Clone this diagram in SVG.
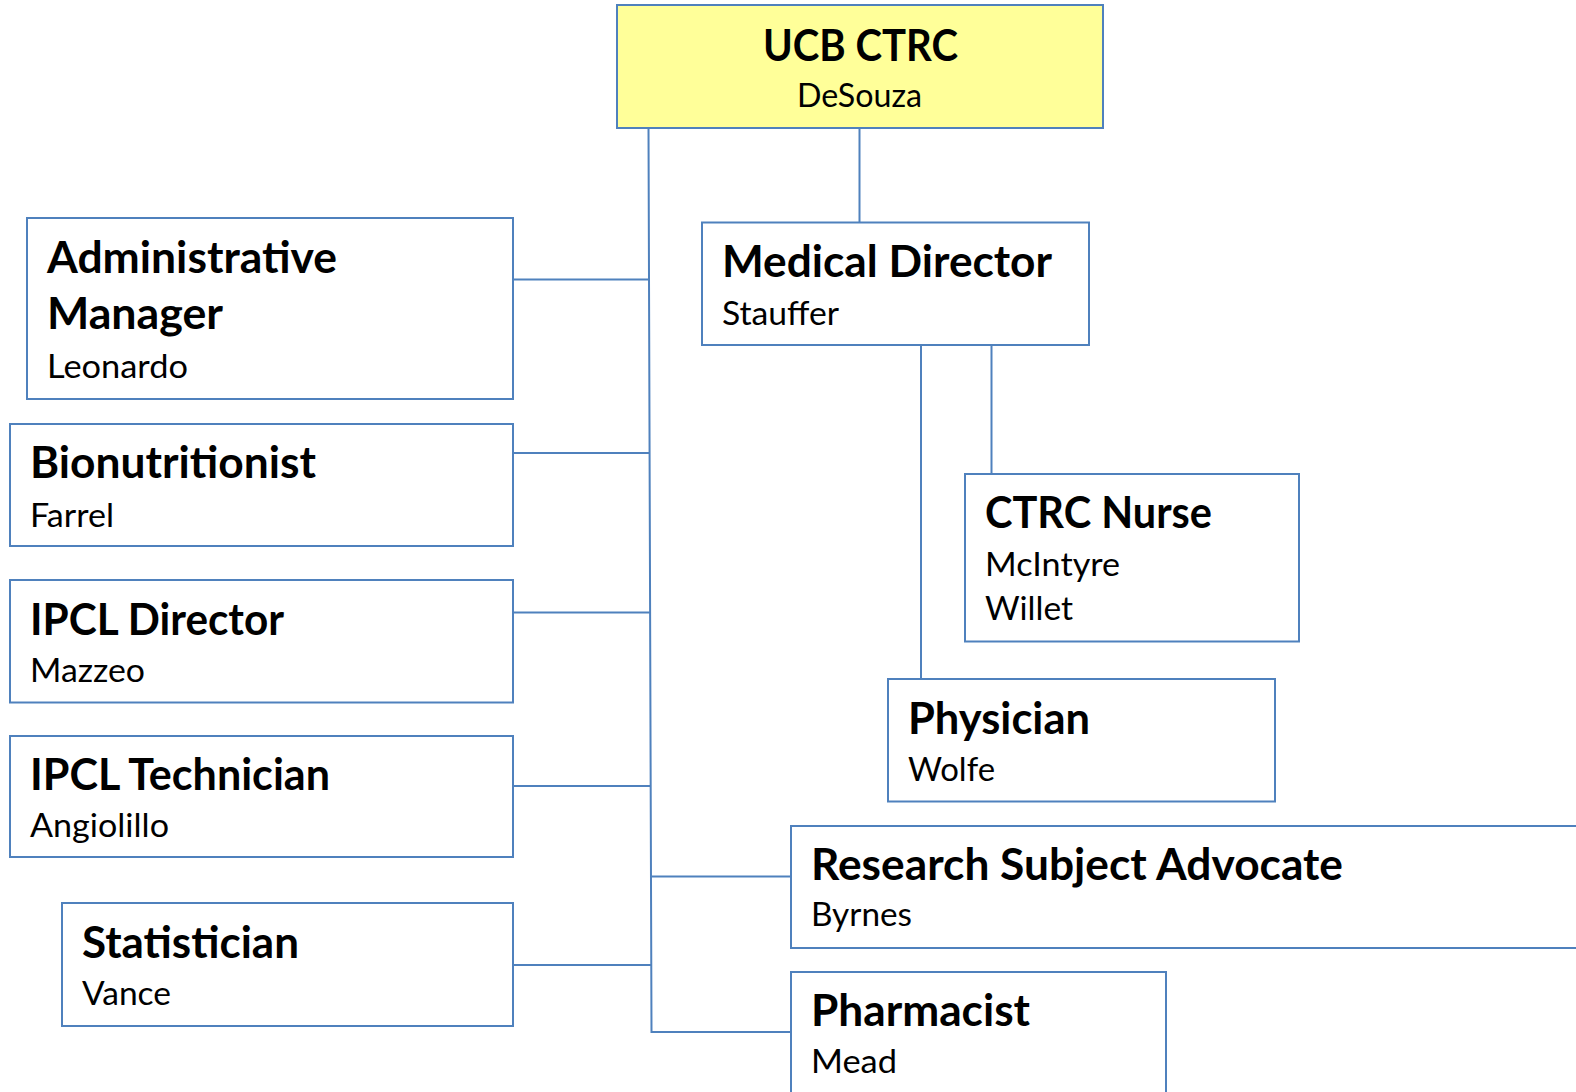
<svg xmlns="http://www.w3.org/2000/svg" width="1576" height="1092" viewBox="0 0 1576 1092">
<style>
.box{fill:#ffffff;stroke:#4f81bd;stroke-width:2}
.top{fill:#ffff99;stroke:#4f81bd;stroke-width:2}
.ln{stroke:#4f81bd;stroke-width:2;fill:none}
.t{font-family:Lato,"Open Sans",sans-serif;font-weight:bold;font-size:43px;fill:#000}
.s{font-family:Lato,"Open Sans",sans-serif;font-size:32px;fill:#000}
</style>
<rect width="1576" height="1092" fill="#ffffff"/>
<g id="connectors">
<path class="ln" d="M648.5 128 L651.5 1032 L791 1032"/>
<path class="ln" d="M859.5 128 V222"/>
<path class="ln" d="M513 279.5 H650"/>
<path class="ln" d="M513 453 H650"/>
<path class="ln" d="M511 612.5 H650"/>
<path class="ln" d="M513 786 H651"/>
<path class="ln" d="M651 876.5 H791"/>
<path class="ln" d="M513 965 H651"/>
<path class="ln" d="M921 345 V679"/>
<path class="ln" d="M991.5 345 V474"/>
</g>
<g id="ucb-ctrc">
<rect class="top" x="617" y="5" width="486" height="123"/>
<text class="t" x="763" y="61" textLength="195" lengthAdjust="spacingAndGlyphs">UCB CTRC</text>
<text class="s" x="797" y="107" textLength="125" lengthAdjust="spacingAndGlyphs">DeSouza</text>
</g>
<g id="medical-director">
<rect class="box" x="702" y="222.5" width="387" height="122.5"/>
<text class="t" x="722" y="277" textLength="330" lengthAdjust="spacingAndGlyphs">Medical Director</text>
<text class="s" x="722" y="325" textLength="117" lengthAdjust="spacingAndGlyphs">Stauffer</text>
</g>
<g id="administrative-manager">
<rect class="box" x="27" y="218" width="486" height="181"/>
<text class="t" x="47" y="273" textLength="290" lengthAdjust="spacingAndGlyphs">Administrative</text>
<text class="t" x="47" y="329" textLength="176" lengthAdjust="spacingAndGlyphs">Manager</text>
<text class="s" x="47" y="378" textLength="141" lengthAdjust="spacingAndGlyphs">Leonardo</text>
</g>
<g id="bionutritionist">
<rect class="box" x="10" y="424" width="503" height="122"/>
<text class="t" x="30" y="478" textLength="286" lengthAdjust="spacingAndGlyphs">Bionutritionist</text>
<text class="s" x="30" y="527" textLength="84" lengthAdjust="spacingAndGlyphs">Farrel</text>
</g>
<g id="ipcl-director">
<rect class="box" x="10" y="580" width="503" height="122.5"/>
<text class="t" x="30" y="635" textLength="254" lengthAdjust="spacingAndGlyphs">IPCL Director</text>
<text class="s" x="30" y="682" textLength="115" lengthAdjust="spacingAndGlyphs">Mazzeo</text>
</g>
<g id="ipcl-technician">
<rect class="box" x="10" y="736" width="503" height="121"/>
<text class="t" x="30" y="790" textLength="300" lengthAdjust="spacingAndGlyphs">IPCL Technician</text>
<text class="s" x="30" y="837" textLength="139" lengthAdjust="spacingAndGlyphs">Angiolillo</text>
</g>
<g id="statistician">
<rect class="box" x="62" y="903" width="451" height="123"/>
<text class="t" x="82" y="958" textLength="217" lengthAdjust="spacingAndGlyphs">Statistician</text>
<text class="s" x="82" y="1005" textLength="89" lengthAdjust="spacingAndGlyphs">Vance</text>
</g>
<g id="ctrc-nurse">
<rect class="box" x="965" y="474" width="334" height="167.5"/>
<text class="t" x="985" y="528" textLength="227" lengthAdjust="spacingAndGlyphs">CTRC Nurse</text>
<text class="s" x="985" y="576" textLength="135" lengthAdjust="spacingAndGlyphs">McIntyre</text>
<text class="s" x="985" y="620" textLength="88" lengthAdjust="spacingAndGlyphs">Willet</text>
</g>
<g id="physician">
<rect class="box" x="888" y="679" width="387" height="122.5"/>
<text class="t" x="908" y="734" textLength="182" lengthAdjust="spacingAndGlyphs">Physician</text>
<text class="s" x="908" y="781" textLength="87" lengthAdjust="spacingAndGlyphs">Wolfe</text>
</g>
<g id="research-subject-advocate">
<rect class="box" x="791" y="826" width="820" height="122"/>
<text class="t" x="811" y="880" textLength="532" lengthAdjust="spacingAndGlyphs">Research Subject Advocate</text>
<text class="s" x="811" y="926" textLength="101" lengthAdjust="spacingAndGlyphs">Byrnes</text>
</g>
<g id="pharmacist">
<rect class="box" x="791" y="972" width="375" height="200"/>
<text class="t" x="811" y="1026" textLength="219" lengthAdjust="spacingAndGlyphs">Pharmacist</text>
<text class="s" x="811" y="1073" textLength="86" lengthAdjust="spacingAndGlyphs">Mead</text>
</g>
</svg>
